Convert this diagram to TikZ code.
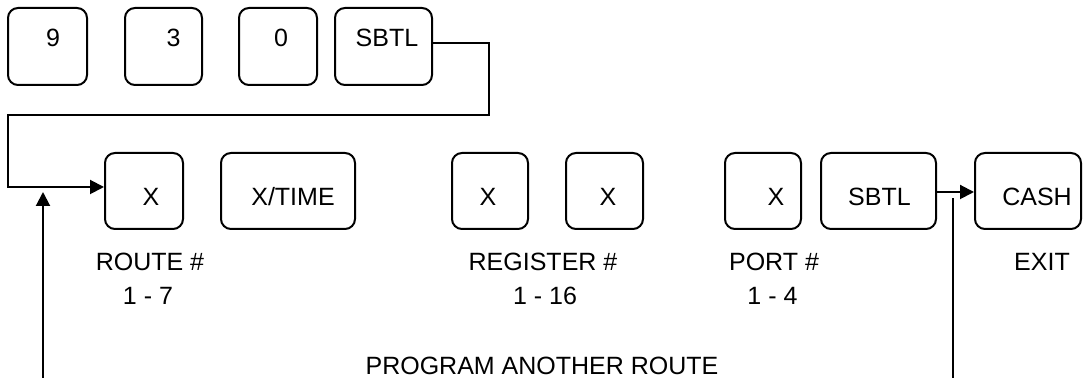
\documentclass[tikz,border=0pt]{standalone}
\usepackage{fontspec}
\setmainfont{Liberation Sans}
\usetikzlibrary{arrows.meta}

\begin{document}
\begin{tikzpicture}[x=0.5pt,y=-0.5pt,
    key/.style={draw,line width=1pt,rounded corners=5pt,inner sep=0pt,minimum height=38pt},
    keytxt/.style={inner sep=0pt,font=\fontsize{12.5}{15}\selectfont},
    lbl/.style={inner sep=0pt,font=\fontsize{12.5}{15}\selectfont},
    link/.style={line width=1pt},
    >={Triangle[length=7pt,width=7pt]}]
  \useasboundingbox (0,0) rectangle (1083,378);

  % first row: 9 3 0 SBTL
  \node[key,minimum width=39.5pt,minimum height=38.5pt] (k9) at (47.5,46.5) {};
  \node[key,minimum width=38.5pt,minimum height=38.5pt] (k3) at (163.5,46.5) {};
  \node[key,minimum width=39pt,minimum height=38.5pt] (k0) at (278,46.5) {};
  \node[key,minimum width=48.5pt,minimum height=38.5pt] (ksbtl) at (383.5,46.5) {};
  \node[keytxt] (t9) at (53,38) {9};
  \node[keytxt] (t3) at (173.5,38) {3};
  \node[keytxt] (t0) at (281,38) {0};
  \node[keytxt] (tsbtl) at (387,38) {SBTL};

  % second row: route, register, port, exit
  \node[key,minimum width=39pt] (kroute) at (144,191) {};
  \node[key,minimum width=67pt] (kxtime) at (288,191) {};
  \node[key,minimum width=38pt] (kregA) at (490,191) {};
  \node[key,minimum width=38.5pt] (kregB) at (604.5,191) {};
  \node[key,minimum width=38pt] (kport) at (763,191) {};
  \node[key,minimum width=57.5pt] (ksubtot) at (878.5,191) {};
  \node[key,minimum width=53pt] (kcash) at (1028,191) {};
  \node[keytxt] (troute) at (151,197) {X};
  \node[keytxt] (txtime) at (293,197) {X/TIME};
  \node[keytxt] (tregA) at (488,197) {X};
  \node[keytxt] (tregB) at (608,197) {X};
  \node[keytxt] (tport) at (776,197) {X};
  \node[keytxt] (tsubtot) at (879.5,197) {SBTL};
  \node[keytxt] (tcash) at (1037,197) {CASH};

  % labels under the keys
  \node[lbl] (lroute) at (150,262) {ROUTE \#};
  \node[lbl] (rroute) at (148,295.5) {1 - 7};
  \node[lbl] (lreg) at (543,262) {REGISTER \#};
  \node[lbl] (rreg) at (545,295.5) {1 - 16};
  \node[lbl] (lport) at (774,262) {PORT \#};
  \node[lbl] (rport) at (772.5,295.5) {1 - 4};
  \node[lbl] (lexit) at (1042,262) {EXIT};
  \node[lbl] (lagain) at (542,366) {PROGRAM ANOTHER ROUTE};

  % SBTL into the route key
  \coordinate (bendR) at (489,115);
  \coordinate (bendL) at (8,115);
  \draw[link,->] ([yshift=1.75pt]ksbtl.east) -| (bendR) -- (bendL) |- ([yshift=2pt]kroute.west);

  % loop back for another route
  \coordinate (loopLbot) at (43,378);
  \coordinate (loopLtop) at (43,192);
  \draw[link,->] (loopLbot) -- (loopLtop);
  \coordinate (loopRbot) at (953,378);
  \coordinate (loopRtop) at (953,198);
  \draw[link] (loopRbot) -- (loopRtop);

  % SBTL to CASH
  \draw[link,->] ([yshift=-0.5pt]ksubtot.east) -- ([yshift=-0.5pt]kcash.west);
\end{tikzpicture}
\end{document}
